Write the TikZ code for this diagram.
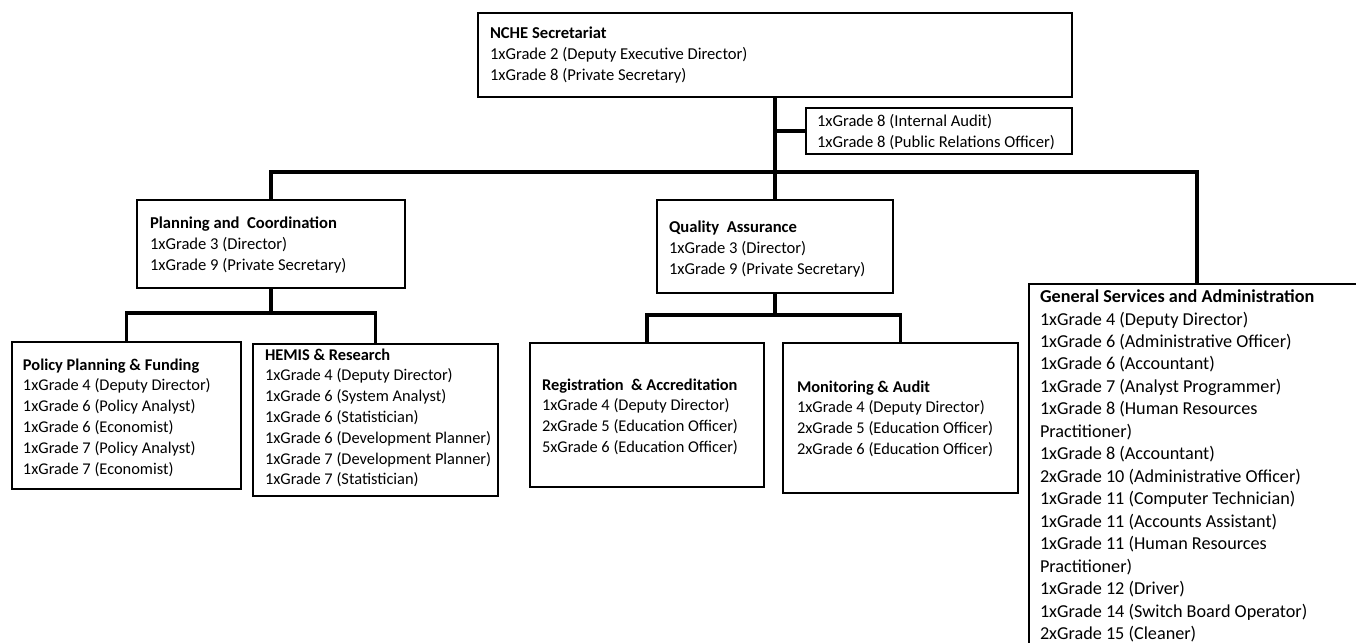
\documentclass[tikz,border=0pt]{standalone}
\usepackage{fontspec}
\setmainfont{Carlito}
\begin{document}
\begin{tikzpicture}[x=0.5pt,y=-0.5pt,
  box/.style={draw=black, line width=0.9pt, inner sep=0pt, outer sep=0pt, anchor=north west},
  conn/.style={draw=black, line width=1.7pt, line join=miter},
  txt/.style={anchor=base west, align=left, inner sep=0pt, outer sep=0pt},
  fa/.style={font=\fontsize{8.3}{10.7}\selectfont},
  fb/.style={font=\fontsize{8.2}{10.4}\selectfont},
  fg/.style={font=\fontsize{9.1}{11.23}\selectfont}]
\useasboundingbox (0,0) rectangle (1356,643);
\clip (0,0) rectangle (1356,643);
\fill[white] (0,0) rectangle (1356,643);
% boxes
\node[box, minimum width=297pt, minimum height=42pt] (nche) at (478,13) {};
\node[box, minimum width=133pt, minimum height=23pt] (audit) at (806,108) {};
\node[box, minimum width=134pt, minimum height=44pt] (plan) at (137,200) {};
\node[box, minimum width=118pt, minimum height=46.5pt] (qa) at (657,200) {};
\node[box, minimum width=168pt, minimum height=190pt] (gsa) at (1029,284) {};
\node[box, minimum width=114.5pt, minimum height=73.5pt] (policy) at (12,342) {};
\node[box, minimum width=122.5pt, minimum height=76pt] (hemis) at (253,344) {};
\node[box, minimum width=117pt, minimum height=72pt] (reg) at (530,343) {};
\node[box, minimum width=117.5pt, minimum height=75pt] (mon) at (783,343) {};
% texts (anchored at the baseline of their last line)
\node[txt, fa] (ncheT) at (490,80.8) {\textbf{NCHE Secretariat}\\1xGrade 2 (Deputy Executive Director)\\1xGrade 8 (Private Secretary)};
\node[txt, fa] (auditT) at (817,147.4) {1xGrade 8 (Internal Audit)\\1xGrade 8 (Public Relations Officer)};
\node[txt, fa] (planT) at (150,270.8) {\textbf{Planning and\ \ Coordination}\\1xGrade 3 (Director)\\1xGrade 9 (Private Secretary)};
\node[txt, fa] (qaT) at (669,274.8) {\textbf{Quality\ \ Assurance}\\1xGrade 3 (Director)\\1xGrade 9 (Private Secretary)};
\node[txt, fb] (policyT) at (23,474) {\textbf{Policy Planning \& Funding}\\1xGrade 4 (Deputy Director)\\1xGrade 6 (Policy Analyst)\\1xGrade 6 (Economist)\\1xGrade 7 (Policy Analyst)\\1xGrade 7 (Economist)};
\node[txt, fb] (hemisT) at (265,484.8) {\textbf{HEMIS \& Research}\\1xGrade 4 (Deputy Director)\\1xGrade 6 (System Analyst)\\1xGrade 6 (Statistician)\\1xGrade 6 (Development Planner)\\1xGrade 7 (Development Planner)\\1xGrade 7 (Statistician)};
\node[txt, fb] (regT) at (542,452.4) {\textbf{Registration\ \ \& Accreditation}\\1xGrade 4 (Deputy Director)\\2xGrade 5 (Education Officer)\\5xGrade 6 (Education Officer)};
\node[txt, fb] (monT) at (797,454.4) {\textbf{Monitoring \& Audit}\\1xGrade 4 (Deputy Director)\\2xGrade 5 (Education Officer)\\2xGrade 6 (Education Officer)};
\node[txt, fg] (gsaT) at (1040,639.5) {\textbf{General Services and Administration}\\1xGrade 4 (Deputy Director)\\1xGrade 6 (Administrative Officer)\\1xGrade 6 (Accountant)\\1xGrade 7 (Analyst Programmer)\\1xGrade 8 (Human Resources\\Practitioner)\\1xGrade 8 (Accountant)\\2xGrade 10 (Administrative Officer)\\1xGrade 11 (Computer Technician)\\1xGrade 11 (Accounts Assistant)\\1xGrade 11 (Human Resources\\Practitioner)\\1xGrade 12 (Driver)\\1xGrade 14 (Switch Board Operator)\\2xGrade 15 (Cleaner)};
% bus levels
\coordinate (bus) at (0,172);
\coordinate (pbus) at (0,313);
\coordinate (qbus) at (0,315);
% connectors
\draw[conn] (nche.south) -- (qa.north);
\draw[conn] (audit.west) -- (audit.west -| nche.south);
\draw[conn] (plan.north) -- (plan.north |- bus) -- (gsa.north |- bus) -- (gsa.north);
\draw[conn] (plan.south) -- (plan.south |- pbus);
\draw[conn] (policy.north) -- (policy.north |- pbus) -- (hemis.north |- pbus) -- (hemis.north);
\draw[conn] (qa.south) -- (qa.south |- qbus);
\draw[conn] (reg.north) -- (reg.north |- qbus) -- (mon.north |- qbus) -- (mon.north);
\end{tikzpicture}
\end{document}
